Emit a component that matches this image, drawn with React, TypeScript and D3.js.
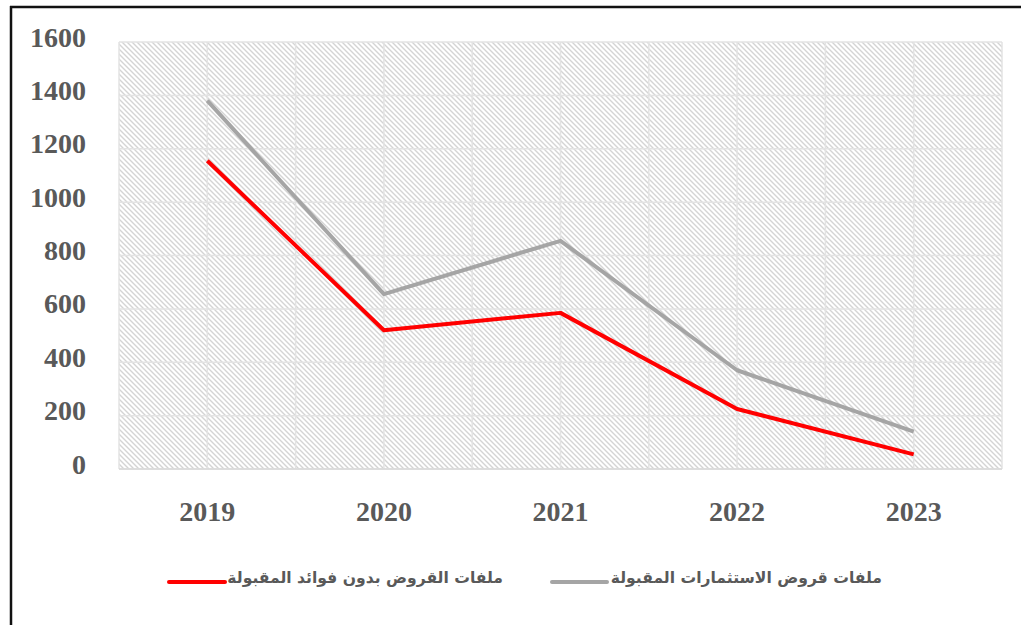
import React, { useEffect, useRef } from "react";
import * as d3 from "d3";

const years = ["2019", "2020", "2021", "2022", "2023"];
const investLoans = [1380, 655, 855, 370, 140];
const interestFreeLoans = [1155, 520, 585, 225, 55];
const yTicks = [0, 200, 400, 600, 800, 1000, 1200, 1400, 1600];
const seriesNames = ["ملفات القروض بدون فوائد المقبولة", "ملفات قروض الاستثمارات المقبولة"];

export default function App() {
  const ref = useRef<SVGSVGElement>(null);

  useEffect(() => {
    const width = 1021;
    const height = 625;
    const left = 119, right = 1002, top = 42, bottom = 469;
    const serif = "'Liberation Serif', 'DejaVu Serif', serif";

    const svg = d3.select(ref.current);
    svg.selectAll("*").remove();

    svg.append("rect").attr("width", width).attr("height", height).attr("fill", "#fff");

    // hatch pattern for plot background
    const defs = svg.append("defs");
    const pat = defs.append("pattern")
      .attr("id", "hatch")
      .attr("patternUnits", "userSpaceOnUse")
      .attr("width", 5)
      .attr("height", 5);
    pat.append("path")
      .attr("d", "M-1,-1 L6,6 M-1,4 L1,6 M4,-1 L6,1")
      .attr("stroke", "#d4d4d4")
      .attr("stroke-width", 1.4);

    const x = d3.scalePoint().domain(years).range([left, right]).padding(0.5);
    const band = d3.scaleBand().domain(years).range([left, right]);
    const y = d3.scaleLinear().domain([0, 1600]).range([bottom, top]);

    svg.append("rect")
      .attr("x", left).attr("y", top)
      .attr("width", right - left).attr("height", bottom - top)
      .attr("fill", "url(#hatch)");

    // grid
    const grid = svg.append("g").attr("stroke", "#e3e3e3").attr("stroke-width", 1.5);
    yTicks.forEach(t => {
      grid.append("line")
        .attr("x1", left).attr("x2", right)
        .attr("y1", y(t)).attr("y2", y(t));
    });
    const vx: number[] = [];
    years.forEach(yr => {
      vx.push(band(yr)!);
      vx.push(x(yr)!);
    });
    vx.push(right);
    vx.forEach(v => {
      grid.append("line")
        .attr("x1", v).attr("x2", v)
        .attr("y1", top).attr("y2", bottom);
    });
    svg.append("line")
      .attr("x1", left).attr("x2", right)
      .attr("y1", bottom).attr("y2", bottom)
      .attr("stroke", "#d9d9d9").attr("stroke-width", 1.5);

    // y labels
    svg.append("g").selectAll("text").data(yTicks).join("text")
      .attr("x", 86)
      .attr("y", d => y(d) - 5)
      .attr("text-anchor", "end")
      .attr("dominant-baseline", "central")
      .attr("font-family", serif)
      .attr("font-weight", "bold")
      .attr("font-size", 28)
      .attr("fill", "#595959")
      .text(d => d);

    // x labels
    svg.append("g").selectAll("text").data(years).join("text")
      .attr("x", d => x(d)!)
      .attr("y", 511)
      .attr("text-anchor", "middle")
      .attr("dominant-baseline", "central")
      .attr("font-family", serif)
      .attr("font-weight", "bold")
      .attr("font-size", 28)
      .attr("fill", "#595959")
      .text(d => d);

    const line = d3.line<number>()
      .x((_, i) => x(years[i])!)
      .y(d => y(d));

    svg.append("path")
      .datum(investLoans)
      .attr("d", line)
      .attr("fill", "none")
      .attr("stroke", "#a5a5a5")
      .attr("stroke-width", 4)
      .attr("stroke-linejoin", "round");

    svg.append("path")
      .datum(interestFreeLoans)
      .attr("d", line)
      .attr("fill", "none")
      .attr("stroke", "#ff0000")
      .attr("stroke-width", 4)
      .attr("stroke-linejoin", "round");

    // legend
    const legend = [
      { name: seriesNames[0], color: "#ff0000", x1: 169, x2: 225, tx: 503 },
      { name: seriesNames[1], color: "#a5a5a5", x1: 552, x2: 607, tx: 882 },
    ];
    const lg = svg.append("g");
    legend.forEach(l => {
      lg.append("line")
        .attr("x1", l.x1).attr("x2", l.x2)
        .attr("y1", 582).attr("y2", 582)
        .attr("stroke", l.color)
        .attr("stroke-width", 4)
        .attr("stroke-linecap", "round");
      lg.append("text")
        .attr("x", l.tx)
        .attr("y", 578)
        .attr("text-anchor", "end")
        .attr("dominant-baseline", "central")
        .attr("font-family", "'DejaVu Sans', sans-serif")
        .attr("font-weight", "bold")
        .attr("font-size", 15.6)
        .attr("fill", "#595959")
        .text(l.name);
    });

    // outer frame (top and left edges visible)
    svg.append("line")
      .attr("x1", 10).attr("x2", width)
      .attr("y1", 7).attr("y2", 7)
      .attr("stroke", "#111").attr("stroke-width", 2.5);
    svg.append("line")
      .attr("x1", 11).attr("x2", 11)
      .attr("y1", 6).attr("y2", height)
      .attr("stroke", "#111").attr("stroke-width", 2.5);
  }, []);

  return (
    <svg
      ref={ref}
      width={1021}
      height={625}
      style={{ position: "absolute", left: 0, top: 0 }}
    />
  );
}
